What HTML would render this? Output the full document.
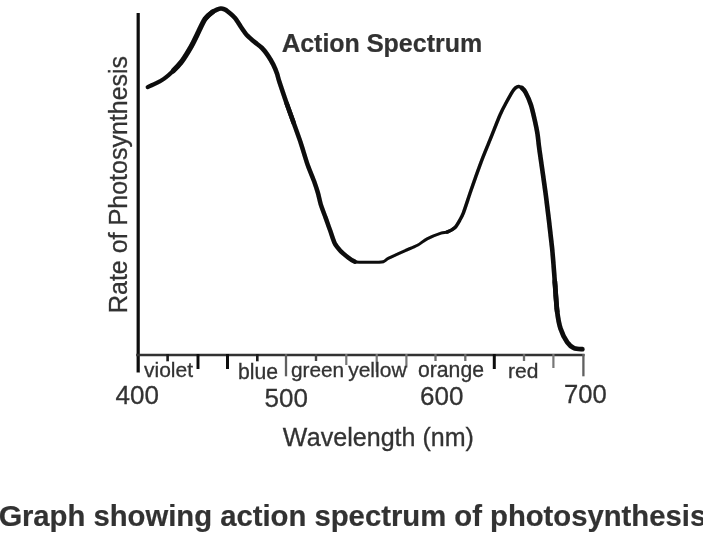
<!DOCTYPE html>
<html>
<head>
<meta charset="utf-8">
<title><tspan font-size="26" dx="-0.3">A</tspan><tspan dx="-0.3">ction </tspan><tspan font-size="26" dx="-0.3">S</tspan><tspan dx="-0.3">pectrum</tspan></title>
<style>
html,body{margin:0;padding:0;background:#fff;}
body{width:703px;height:533px;overflow:hidden;position:relative;font-family:"Liberation Sans",sans-serif;}
svg{position:absolute;left:0;top:0;}
text{font-family:"Liberation Sans",sans-serif;fill:#333;stroke:#333;stroke-width:0.3px;}
text[font-weight="bold"]{stroke-width:0.2px;}
</style>
</head>
<body>
<svg width="703" height="533" viewBox="0 0 703 533">
<defs><filter id="bl" x="-5%" y="-5%" width="110%" height="110%"><feGaussianBlur stdDeviation="0.6"/></filter></defs>
<rect width="703" height="533" fill="#fff"/>
<g filter="url(#bl)">
<!-- axes -->
<line x1="138.2" y1="13" x2="138.2" y2="372.6" stroke="#111" stroke-width="3.2"/>
<line x1="136.2" y1="355" x2="584.5" y2="355" stroke="#333" stroke-width="2.3"/>
<!-- ticks -->
<g stroke="#1a1a1a" stroke-width="2.6">
<line x1="167.6" y1="354" x2="167.6" y2="361.3"/>
<line x1="257.3" y1="354" x2="257.3" y2="361.3"/>
</g>
<g stroke="#444" stroke-width="2.4">
<line x1="316" y1="354" x2="316" y2="361"/>
</g>
<g stroke="#6a6a6a" stroke-width="2.3">
<line x1="435.5" y1="354" x2="435.5" y2="361"/>
<line x1="465.3" y1="354" x2="465.3" y2="361"/>
<line x1="524" y1="354" x2="524" y2="361"/>
</g>
<g stroke="#111" stroke-width="3">
<line x1="198" y1="354" x2="198" y2="369"/>
<line x1="227.5" y1="354" x2="227.5" y2="369"/>
<line x1="494.3" y1="354" x2="494.3" y2="369"/>
</g>
<g stroke="#777" stroke-width="2.2">
<line x1="346.3" y1="354" x2="346.3" y2="365"/>
<line x1="376.7" y1="354" x2="376.7" y2="372"/>
<line x1="406.4" y1="354" x2="406.4" y2="367.5"/>
<line x1="553.4" y1="354" x2="553.4" y2="368"/>
</g>
<g stroke="#606060" stroke-width="2.3">
<line x1="286" y1="354" x2="286" y2="376.3"/>
<line x1="583.4" y1="354" x2="583.4" y2="376.3"/>
</g>
<!-- curve -->
<g fill="none" stroke="#0a0a0a" stroke-linecap="round" stroke-linejoin="round">
<path stroke-width="4.2" d="M147.7 87.1 C148.8 86.6 154.1 84.3 156.3 83.2 C158.5 82.1 161.9 80.3 164.2 78.6 C166.5 76.9 171.1 72.9 173.4 70.7 C175.7 68.5 179.5 64.4 181.2 62.2"/>
<path stroke-width="5.2" d="M173.4 70.7 C175.7 68.5 179.5 64.4 181.2 62.2 C182.9 60.0 185.1 56.5 186.5 54.3 C187.9 52.1 190.3 48.2 191.6 45.8 C192.9 43.4 195.3 38.5 196.2 36.6 C197.1 34.7 197.4 34.0 198.6 31.6 C199.8 29.2 203.3 21.4 205.2 18.8 C207.1 16.2 210.9 13.2 212.5 12.0"/>
<path stroke-width="4.6" d="M205.2 18.8 C207.1 16.2 210.9 13.2 212.5 12.0 C214.1 10.8 215.9 10.1 217.0 9.6 C218.1 9.1 219.9 8.6 220.8 8.5 C221.7 8.4 223.1 8.8 224.0 9.2 C224.9 9.6 226.0 10.1 227.5 11.3 C229.0 12.5 233.2 15.9 235.0 18.0 C236.8 20.1 239.4 24.7 241.0 27.0 C242.6 29.3 245.2 33.3 247.0 35.3 C248.8 37.3 252.6 40.3 254.6 42.0 C256.6 43.7 260.2 46.2 262.0 48.0 C263.8 49.8 266.5 53.4 268.0 55.6 C269.5 57.8 272.1 62.2 273.3 64.6 C274.5 67.0 276.2 71.2 277.0 73.6 C277.8 76.0 278.3 78.6 279.6 82.5 C280.9 86.4 284.7 97.8 286.6 103.2 C288.5 108.6 291.8 117.7 293.7 123.0"/>
<path stroke-width="4.5" d="M286.6 103.2 C288.5 108.6 291.8 117.7 293.7 123.0 C295.6 128.3 298.8 137.1 300.7 142.7 C302.6 148.3 305.9 159.9 307.7 165.0 C309.5 170.1 312.8 177.6 314.1 181.3 C315.4 185.0 316.9 189.5 317.8 192.5 C318.7 195.5 319.6 200.5 320.6 203.8 C321.6 207.1 324.0 213.4 325.3 216.9 C326.6 220.4 328.7 226.5 330.0 230.0 C331.3 233.5 333.3 240.4 334.7 243.2 C336.1 246.0 338.6 248.8 340.3 250.7 C342.0 252.6 345.9 255.7 347.8 257.2 C349.7 258.7 353.0 261.0 354.8 261.7"/>
<path stroke-width="3.0" d="M347.8 257.2 C349.7 258.7 353.0 261.0 354.8 261.7 C356.6 262.4 359.1 262.1 361.0 262.2 C362.9 262.3 366.8 262.2 368.9 262.2 C371.0 262.2 375.1 262.3 377.0 262.2 C378.9 262.1 381.7 262.2 383.3 261.7 C384.9 261.2 385.8 259.7 388.7 258.2 C391.6 256.7 400.9 252.5 404.7 250.8 C408.5 249.1 414.5 246.8 417.5 245.2 C420.5 243.6 424.0 240.4 427.1 238.8 C430.2 237.2 438.3 234.0 441.0 233.1 C443.7 232.2 445.5 232.7 447.3 232.0 C449.1 231.3 453.1 229.3 454.8 227.7"/>
<path stroke-width="3.5" d="M447.3 232.0 C449.1 231.3 453.1 229.3 454.8 227.7 C456.5 226.1 458.6 222.3 459.7 220.3 C460.8 218.3 461.9 216.6 463.4 212.8 C464.9 209.0 468.3 198.2 470.6 191.5 C472.9 184.8 478.2 169.8 480.8 162.8 C483.4 155.8 487.7 145.6 490.3 139.2 C492.9 132.8 497.9 119.8 500.0 115.0 C502.1 110.2 504.3 106.1 506.0 103.0 C507.7 99.9 511.3 93.5 512.6 91.4 C513.9 89.3 515.0 88.3 515.8 87.6 C516.6 86.9 518.0 86.3 518.8 86.4 C519.6 86.5 521.1 87.2 522.0 88.0 C522.9 88.8 524.4 90.3 525.6 92.5"/>
<path stroke-width="4.6" d="M522.0 88.0 C522.9 88.8 524.4 90.3 525.6 92.5 C526.8 94.7 529.6 100.9 530.8 104.5 C532.0 108.1 533.7 115.5 534.6 119.5 C535.5 123.5 537.0 130.6 537.6 134.6 C538.2 138.6 538.3 141.6 539.4 149.6 C540.5 157.6 544.1 181.9 545.8 194.9 C547.5 207.9 550.8 235.7 552.0 247.2 C553.2 258.7 554.1 272.8 554.8 281.4 C555.5 290.0 556.4 305.5 557.2 311.8"/>
<path stroke-width="4.8" d="M554.8 281.4 C555.5 290.0 556.4 305.5 557.2 311.8 C558.0 318.1 559.2 324.5 560.5 328.6 C561.8 332.7 565.5 339.8 567.3 342.4 C569.1 345.0 572.0 347.2 574.0 348.1 C576.0 349.0 581.2 349.1 582.3 349.2"/>
</g>
<!-- text -->
<text x="282" y="52" font-size="25" font-weight="bold"><tspan font-size="26" dx="-0.3">A</tspan><tspan dx="-0.3">ction </tspan><tspan font-size="26" dx="-0.3">S</tspan><tspan dx="-0.3">pectrum</tspan></text>
<text transform="translate(126.5,313.2) rotate(-90)" font-size="25"><tspan font-size="26" dx="-0.3">R</tspan><tspan dx="-0.3">ate of </tspan><tspan font-size="26" dx="-0.3">P</tspan><tspan dx="-0.3">hotosynthesis</tspan></text>
<text x="283.2" y="445.8" font-size="25.05"><tspan font-size="26" dx="-0.5">W</tspan><tspan dx="-0.4">avelength (nm)</tspan></text>
<text x="115.6" y="404.3" font-size="26">400</text>
<text x="264.6" y="407" font-size="26">500</text>
<text x="420" y="405.3" font-size="26">600</text>
<text x="564" y="403" font-size="25.6">700</text>
<text x="144" y="376.6" font-size="21">violet</text>
<text x="238" y="379.2" font-size="21.2">blue</text>
<text x="291" y="377" font-size="20.8">green</text>
<text x="348.2" y="377" font-size="21">yellow</text>
<text x="418" y="377" font-size="21.2">orange</text>
<text x="508" y="378" font-size="21">red</text>
<text x="-0.8" y="526" font-size="29.25" font-weight="bold"><tspan font-size="30.3" dx="-0.4">G</tspan><tspan dx="-0.4">raph showing action spectrum of photosynthesis</tspan></text>
</g>
</svg>
</body>
</html>
